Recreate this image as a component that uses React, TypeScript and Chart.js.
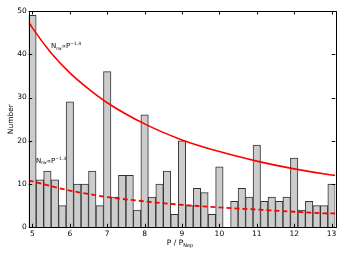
import React, { useEffect, useRef } from "react";
import { Chart, registerables } from "chart.js";

Chart.register(...registerables);

// Histogram bin centres (bin width 0.2) and counts
const BIN_CENTERS = [
  5.0, 5.2, 5.4, 5.6, 5.8, 6.0, 6.2, 6.4, 6.6, 6.8,
  7.0, 7.2, 7.4, 7.6, 7.8, 8.0, 8.2, 8.4, 8.6, 8.8,
  9.0, 9.2, 9.4, 9.6, 9.8, 10.0, 10.2, 10.4, 10.6, 10.8,
  11.0, 11.2, 11.4, 11.6, 11.8, 12.0, 12.2, 12.4, 12.6, 12.8, 13.0,
];
const COUNTS = [
  49, 11, 13, 11, 5, 29, 10, 10, 13, 5,
  36, 7, 12, 12, 4, 26, 7, 10, 13, 3,
  20, 5, 9, 8, 3, 14, 0, 6, 9, 7,
  19, 6, 7, 6, 7, 16, 4, 6, 5, 5, 10,
];

// Fitted power-law curves
const FIT14_X = [4.9, 5, 5.5, 6, 6.5, 7, 8, 9, 10, 11, 12, 13, 13.1];
const FIT14_Y = [47.5, 46.1, 40.3, 35.7, 32.0, 28.8, 23.9, 20.2, 17.5, 15.3, 13.5, 12.1, 12.0];
const FIT13_X = [4.9, 5, 5.5, 6, 6.5, 7, 8, 9, 10, 11, 12, 13, 13.1];
const FIT13_Y = [10.8, 10.6, 9.5, 8.5, 7.7, 7.0, 6.0, 5.2, 4.6, 4.1, 3.6, 3.2, 3.2];

const X_TICKS = [5, 6, 7, 8, 9, 10, 11, 12, 13];
const Y_TICKS = [0, 10, 20, 30, 40, 50];

const FONT = "'DejaVu Sans', sans-serif";

function drawRich(ctx: CanvasRenderingContext2D, x: number, y: number, parts: { t: string; s: number; dy: number }[]) {
  let cx = x;
  for (const p of parts) {
    ctx.font = `${p.s}px ${FONT}`;
    ctx.fillText(p.t, cx, y + p.dy);
    cx += ctx.measureText(p.t).width;
  }
  return cx - x;
}

function measureRich(ctx: CanvasRenderingContext2D, parts: { t: string; s: number; dy: number }[]) {
  let w = 0;
  for (const p of parts) {
    ctx.font = `${p.s}px ${FONT}`;
    w += ctx.measureText(p.t).width;
  }
  return w;
}

const framePlugin = {
  id: "frame",
  afterDatasetsDraw(chart: any) {
    const { ctx, chartArea: a, scales } = chart;
    const x = scales.x;
    const y = scales.y;
    ctx.save();
    ctx.strokeStyle = "#000";
    ctx.lineWidth = 1;
    ctx.strokeRect(Math.round(a.left) + 0.5, Math.round(a.top) + 0.5, Math.round(a.right - a.left), Math.round(a.bottom - a.top));
    const tl = 3.5;
    ctx.beginPath();
    for (const t of X_TICKS) {
      const px = Math.round(x.getPixelForValue(t)) + 0.5;
      ctx.moveTo(px, a.bottom);
      ctx.lineTo(px, a.bottom - tl);
      ctx.moveTo(px, a.top);
      ctx.lineTo(px, a.top + tl);
    }
    for (const t of Y_TICKS) {
      const py = Math.round(y.getPixelForValue(t)) + 0.5;
      ctx.moveTo(a.left, py);
      ctx.lineTo(a.left + tl, py);
      ctx.moveTo(a.right, py);
      ctx.lineTo(a.right - tl, py);
    }
    ctx.stroke();

    // annotations
    ctx.fillStyle = "#000";
    ctx.textBaseline = "middle";
    ctx.textAlign = "left";
    drawRich(ctx, 51, 46.5, [
      { t: "N", s: 7, dy: 0 },
      { t: "rw", s: 4.5, dy: 2 },
      { t: "\u221D", s: 6, dy: 0 },
      { t: "P", s: 7, dy: 0 },
      { t: "\u22121.4", s: 4.5, dy: -2.5 },
    ]);
    drawRich(ctx, 36, 161, [
      { t: "N", s: 7, dy: 0 },
      { t: "rw", s: 4.5, dy: 2 },
      { t: "\u221D", s: 6, dy: 0 },
      { t: "P", s: 7, dy: 0 },
      { t: "\u22121.3", s: 4.5, dy: -2.5 },
    ]);

    // x title
    const xt = [
      { t: "P / P", s: 7.5, dy: 0 },
      { t: "Nep", s: 5, dy: 2.5 },
    ];
    const w = measureRich(ctx, xt);
    drawRich(ctx, (a.left + a.right) / 2 - w / 2 - 2, 243, xt);

    // y title
    ctx.save();
    ctx.translate(11, (a.top + a.bottom) / 2);
    ctx.rotate(-Math.PI / 2);
    ctx.textAlign = "center";
    ctx.font = `7.5px ${FONT}`;
    ctx.fillText("Number", 0, 0);
    ctx.restore();
    ctx.restore();
  },
};

export default function App() {
  const ref = useRef<HTMLCanvasElement>(null);
  useEffect(() => {
    if (!ref.current) return;
    const chart = new Chart(ref.current, {
      type: "bar",
      data: {
        datasets: [
          {
            type: "line",
            data: FIT14_X.map((v, i) => ({ x: v, y: FIT14_Y[i] })),
            borderColor: "#ff0000",
            borderWidth: 1.6,
            pointRadius: 0,
            cubicInterpolationMode: "monotone",
            fill: false,
            order: 0,
          } as any,
          {
            type: "line",
            data: FIT13_X.map((v, i) => ({ x: v, y: FIT13_Y[i] })),
            borderColor: "#ff0000",
            borderWidth: 1.8,
            borderDash: [5, 3],
            pointRadius: 0,
            cubicInterpolationMode: "monotone",
            fill: false,
            order: 0,
          } as any,
          {
            type: "bar",
            data: BIN_CENTERS.map((v, i) => ({ x: v, y: COUNTS[i] })),
            backgroundColor: "#cccccc",
            borderColor: "#333333",
            borderWidth: 1,
            barPercentage: 1,
            categoryPercentage: 1,
            order: 1,
          } as any,
        ],
      },
      options: {
        animation: false,
        responsive: false,
        maintainAspectRatio: false,
        layout: { padding: { top: 11, right: 8.7, left: 0, bottom: 0 } },
        plugins: { legend: { display: false }, tooltip: { enabled: false } },
        scales: {
          x: {
            type: "linear",
            min: 4.9,
            max: 13.1,
            offset: false,
            grid: { display: false, drawTicks: false, offset: false },
            border: { display: false },
            afterBuildTicks: (s: any) => {
              s.ticks = X_TICKS.map((v) => ({ value: v }));
            },
            afterFit: (s: any) => {
              s.height = 30.7;
            },
            ticks: { color: "#000", font: { size: 7.5, family: FONT }, padding: 2, maxRotation: 0, autoSkip: false },
          },
          y: {
            min: 0,
            max: 50,
            grid: { display: false, drawTicks: false },
            border: { display: false },
            afterBuildTicks: (s: any) => {
              s.ticks = Y_TICKS.map((v) => ({ value: v }));
            },
            afterFit: (s: any) => {
              s.width = 28.7;
            },
            ticks: { color: "#000", font: { size: 7.5, family: FONT }, padding: 2 },
          },
        },
      } as any,
      plugins: [framePlugin],
    });
    return () => chart.destroy();
  }, []);
  return (
    <div style={{ position: "fixed", left: 0, top: 0, width: 344, height: 258, background: "#fff" }}>
      <canvas ref={ref} width={344} height={258} style={{ display: "block" }} />
    </div>
  );
}
